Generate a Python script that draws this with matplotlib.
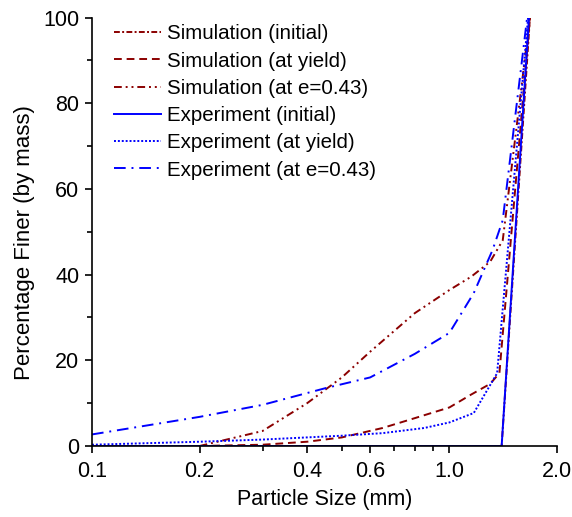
import matplotlib
matplotlib.use("Agg")
import matplotlib.pyplot as plt
from matplotlib.ticker import FixedLocator, NullFormatter, FixedFormatter

plt.rcParams['font.family'] = ['Liberation Sans', 'DejaVu Sans']

# Data (particle size mm, percentage finer)
sim_init_x = [0.2, 1.40, 1.68]
sim_init_y = [0, 0, 100]
sim_yield_x = [0.2, 0.3, 0.4, 0.5, 0.65, 0.8, 1.0, 1.15, 1.3, 1.38, 1.68]
sim_yield_y = [0, 0.3, 1, 2, 4.2, 6.5, 9, 12, 14.5, 17, 100]
sim_e_x = [0.2, 0.3, 0.4, 0.5, 0.6, 0.8, 1.0, 1.15, 1.3, 1.41, 1.68]
sim_e_y = [0, 3.5, 10, 16, 22, 31, 36.4, 39.5, 43, 48, 100]
exp_init_x = [0.1, 1.40, 1.67]
exp_init_y = [0, 0, 100]
exp_yield_x = [0.1, 0.2, 0.3, 0.5, 0.65, 0.85, 1.0, 1.17, 1.36, 1.66]
exp_yield_y = [0.3, 1.0, 1.5, 2.4, 3.0, 4.2, 5.5, 7.7, 17, 100]
exp_e_x = [0.1, 0.2, 0.3, 0.45, 0.6, 0.8, 1.0, 1.17, 1.32, 1.41, 1.65]
exp_e_y = [2.7, 6.8, 9.6, 13.5, 16, 21.5, 26.4, 35.7, 45.7, 52.7, 100]

xticks_major = [0.1, 0.2, 0.4, 0.6, 1.0, 2.0]
xtick_labels = ['0.1', '0.2', '0.4', '0.6', '1.0', '2.0']
xticks_minor = [0.3, 0.5, 0.7, 0.8, 0.9]

red = '#8B0000'
blue = '#0000FF'

fig = plt.figure(figsize=(5.72, 5.17), dpi=100)
ax = fig.add_axes([92/572, 1-446/517, (557-92)/572, (446-17.5)/517])

lw = 1.4
ax.plot(sim_init_x, sim_init_y, color=red, lw=lw, dashes=(3, 1.2, 1, 1.2), label='Simulation (initial)')
ax.plot(sim_yield_x, sim_yield_y, color=red, lw=lw, dashes=(4, 2.5), label='Simulation (at yield)')
ax.plot(sim_e_x, sim_e_y, color=red, lw=lw, dashes=(4, 2, 1, 2, 1, 2), label='Simulation (at e=0.43)')
ax.plot(exp_init_x, exp_init_y, color=blue, lw=lw, label='Experiment (initial)')
ax.plot(exp_yield_x, exp_yield_y, color=blue, lw=lw, dashes=(1, 1), label='Experiment (at yield)')
ax.plot(exp_e_x, exp_e_y, color=blue, lw=lw, dashes=(6, 3, 1, 3), label='Experiment (at e=0.43)')

ax.set_xscale('log')
ax.set_xlim(0.1, 2.0)
ax.set_ylim(0, 100)
ax.xaxis.set_major_locator(FixedLocator(xticks_major))
ax.xaxis.set_major_formatter(FixedFormatter(xtick_labels))
ax.xaxis.set_minor_locator(FixedLocator(xticks_minor))
ax.xaxis.set_minor_formatter(NullFormatter())
ax.set_yticks(range(0, 101, 20))
ax.set_yticks(range(10, 100, 20), minor=True)

for s in ['top', 'right']:
    ax.spines[s].set_visible(False)
for s in ['left', 'bottom']:
    ax.spines[s].set_linewidth(1.2)
ax.tick_params(which='major', direction='out', length=5, width=1.2, labelsize=15.5, pad=4)
ax.tick_params(axis='x', which='major', pad=6)
ax.tick_params(which='minor', direction='out', length=3.5, width=1.2)

ax.set_xlabel('Particle Size (mm)', fontsize=15.5, labelpad=5)
ax.set_ylabel('Percentage Finer (by mass)', fontsize=16, labelpad=6)
ax.yaxis.label.set_y(0.475)

leg = ax.legend(loc='upper left', frameon=False, fontsize=14.8, handlelength=2.3,
                handletextpad=0.29, labelspacing=0.4, bbox_to_anchor=(0.03, 1.003),
                borderaxespad=0.0)

fig.savefig('out.png', dpi=100)
